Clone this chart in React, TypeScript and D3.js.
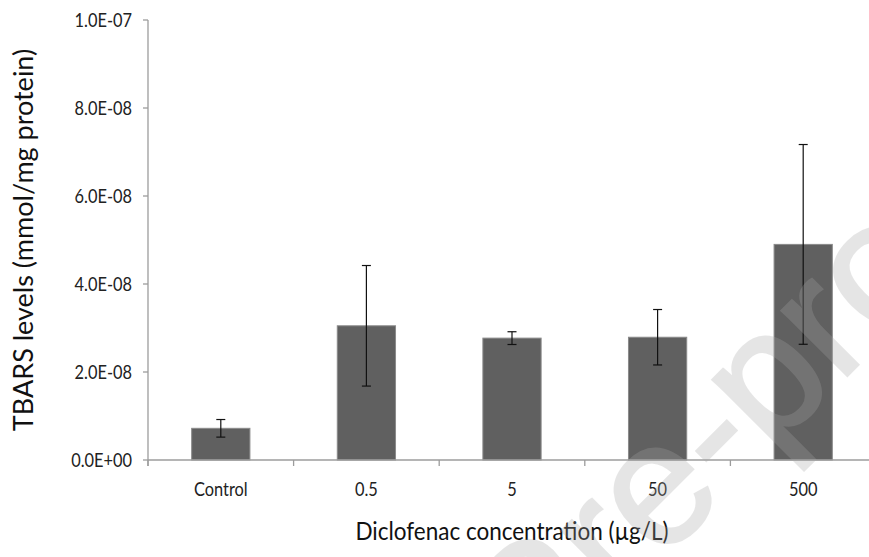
import React, { useEffect, useRef } from "react";
import * as d3 from "d3";

// values
const categories = ["Control", "0.5", "5", "50", "500"];
const means = [7.2e-9, 3.05e-8, 2.77e-8, 2.79e-8, 4.9e-8];
const errors = [2.0e-9, 1.37e-8, 1.45e-9, 6.3e-9, 2.27e-8];
const yTicks = [0, 2e-8, 4e-8, 6e-8, 8e-8, 1e-7];

const W = 869;
const H = 557;
const FONT = "Lato, 'Open Sans', sans-serif";

function fmt(v: number) {
  // excel style 0.0E+00
  if (v === 0) return "0.0E+00";
  const e = Math.floor(Math.log10(v));
  const m = v / Math.pow(10, e);
  const sign = e < 0 ? "-" : "+";
  return m.toFixed(1) + "E" + sign + String(Math.abs(e)).padStart(2, "0");
}

export default function App() {
  const ref = useRef<SVGSVGElement>(null);

  useEffect(() => {
    const svg = d3.select(ref.current);
    svg.selectAll("*").remove();

    const left = 148, right = 876, top = 20, bottom = 460;

    const x = d3.scaleBand()
      .domain(categories)
      .range([left, right])
      .paddingInner(0.6)
      .paddingOuter(0.3);
    const y = d3.scaleLinear().domain([0, 1e-7]).range([bottom, top]);

    const step = x.step();
    const axisColor = "#9c9c9c";

    // bars
    svg.append("g")
      .selectAll("rect")
      .data(categories)
      .enter()
      .append("rect")
        .attr("x", d => x(d)!)
        .attr("width", x.bandwidth())
        .attr("y", (d, i) => y(means[i]))
        .attr("height", (d, i) => y(0) - y(means[i]))
        .attr("fill", "#606060")
        .attr("stroke", "#8a8a8a")
        .attr("stroke-width", 1);

    // axes
    const ax = svg.append("g").attr("stroke", axisColor).attr("stroke-width", 1.3);
    ax.append("line").attr("x1", left).attr("x2", left).attr("y1", y(1e-7)).attr("y2", bottom + 6);
    ax.append("line").attr("x1", left).attr("x2", right).attr("y1", bottom).attr("y2", bottom);
    ax.selectAll(".yt").data(yTicks).enter().append("line")
      .attr("x1", left - 5).attr("x2", left)
      .attr("y1", d => y(d)).attr("y2", d => y(d));
    // x ticks sit between categories
    ax.selectAll(".xt").data(d3.range(categories.length + 1)).enter().append("line")
      .attr("x1", i => left + i * step).attr("x2", i => left + i * step)
      .attr("y1", bottom).attr("y2", bottom + 6);

    // error bars
    const eb = svg.append("g").attr("stroke", "#111").attr("stroke-width", 1.2);
    categories.forEach((c, i) => {
      const cx = x(c)! + x.bandwidth() / 2;
      const hi = y(means[i] + errors[i]);
      const lo = y(means[i] - errors[i]);
      eb.append("line").attr("x1", cx).attr("x2", cx).attr("y1", hi).attr("y2", lo);
      eb.append("line").attr("x1", cx - 4.5).attr("x2", cx + 4.5).attr("y1", hi).attr("y2", hi);
      eb.append("line").attr("x1", cx - 4.5).attr("x2", cx + 4.5).attr("y1", lo).attr("y2", lo);
    });

    const sx = 0.82;
    // y tick labels
    svg.append("g")
      .selectAll("g")
      .data(yTicks)
      .enter()
      .append("g")
        .attr("transform", d => `translate(${left - 16},${y(d)}) scale(${sx},1)`)
      .append("text")
        .attr("text-anchor", "end")
        .attr("dy", "0.36em")
        .style("font-family", FONT)
        .style("font-size", "20px")
        .attr("fill", "#222")
        .text(d => fmt(d));

    // x tick labels
    svg.append("g")
      .selectAll("g")
      .data(categories)
      .enter()
      .append("g")
        .attr("transform", d => `translate(${x(d)! + x.bandwidth() / 2},${bottom + 36}) scale(${sx},1)`)
      .append("text")
        .attr("text-anchor", "middle")
        .style("font-family", FONT)
        .style("font-size", "20px")
        .attr("fill", "#222")
        .text(d => d);

    // axis titles
    svg.append("g")
      .attr("transform", `translate(${(left + right) / 2},540) scale(0.9,1)`)
      .append("text")
        .attr("text-anchor", "middle")
        .style("font-family", FONT)
        .style("font-size", "25px")
        .attr("fill", "#111")
        .text("Diclofenac concentration (\u00b5g/L)");

    svg.append("text")
      .attr("transform", `translate(33,240) rotate(-90)`)
      .attr("text-anchor", "middle")
      .style("font-family", FONT)
      .style("font-size", "27px")
      .attr("fill", "#111")
      .text("TBARS levels (mmol/mg protein)");

    // watermark
    svg.append("text")
      .attr("transform", "translate(96,1127) rotate(-45)")
      .style("font-family", "'Liberation Sans', Arial, sans-serif")
      .style("font-size", "175px")
      .attr("fill", "#a6a6a6")
      .attr("stroke", "#a6a6a6")
      .attr("stroke-width", 2.5)
      .attr("opacity", 0.28)
      .text("Journal Pre-proof");
  }, []);

  return (
    <svg ref={ref} width={W} height={H}
      style={{ position: "absolute", left: 0, top: 0, background: "#fff" }} />
  );
}
